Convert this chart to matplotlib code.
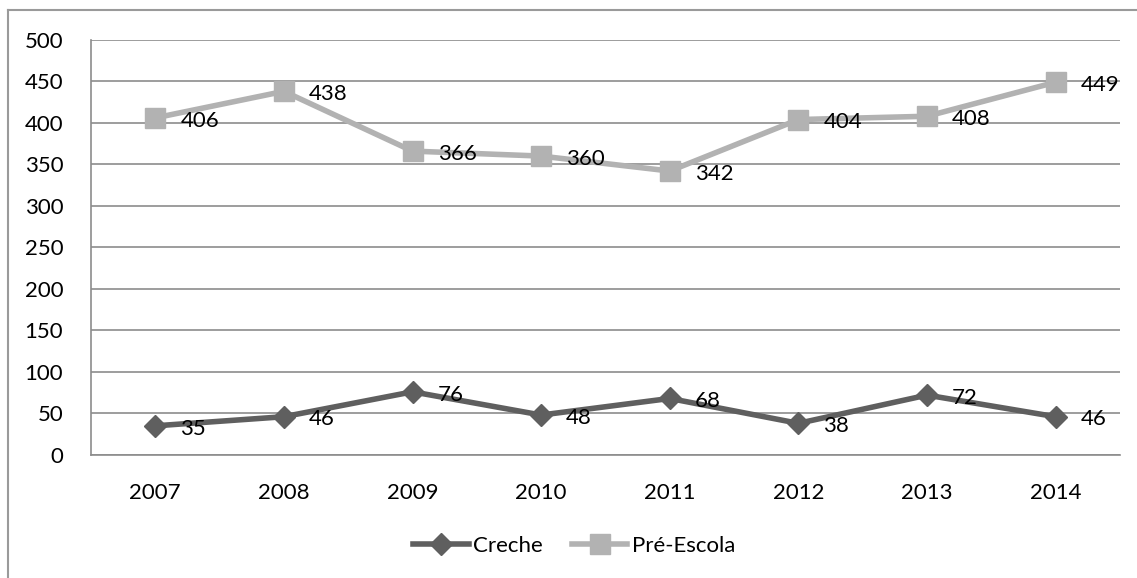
import matplotlib
matplotlib.use('Agg')
import matplotlib.pyplot as plt
from matplotlib.lines import Line2D

plt.rcParams['font.family'] = ['Lato', 'DejaVu Sans']

# Dados
anos = ['2007', '2008', '2009', '2010', '2011', '2012', '2013', '2014']
creche = [35, 46, 76, 48, 68, 38, 72, 46]
pre_escola = [406, 438, 366, 360, 342, 404, 408, 449]

cor_creche = '#5f5f5f'
cor_pre = '#b2b2b2'
cor_grade = '#8c8c8c'
fs = 16

fig = plt.figure(figsize=(11.37, 5.78), dpi=100)
ax = fig.add_axes([0.080, 0.213, 0.905, 0.718])

x = range(len(anos))
ax.plot(x, creche, color=cor_creche, lw=4, marker='D', ms=11, label='Creche', zorder=3)
ax.plot(x, pre_escola, color=cor_pre, lw=4, marker='s', ms=14, label='Pré-Escola', zorder=3)

# Rótulos de dados
for serie in (creche, pre_escola):
    for xi, v in zip(x, serie):
        ax.annotate(str(v), (xi, v), xytext=(18, -2), textcoords='offset points',
                    ha='left', va='center', fontsize=fs, zorder=4)

ax.set_ylim(0, 500)
ax.set_yticks(range(0, 501, 50))
ax.set_xlim(-0.5, len(anos) - 0.5)
ax.set_xticks(list(x))
ax.set_xticklabels(anos)
ax.yaxis.grid(True, color=cor_grade, lw=1.2)
ax.set_axisbelow(True)
ax.tick_params(axis='both', length=0, labelsize=fs)
ax.tick_params(axis='x', pad=20)
ax.tick_params(axis='y', pad=20)
for s in ['top', 'right']:
    ax.spines[s].set_visible(False)
ax.spines['left'].set_color(cor_grade)
ax.spines['bottom'].set_color(cor_grade)
ax.spines['left'].set_linewidth(1.2)
ax.spines['bottom'].set_linewidth(1.2)

leg = fig.legend(loc='center', bbox_to_anchor=(0.505, 0.055), ncol=2, frameon=False,
                 fontsize=fs, handlelength=2.5, handletextpad=0.2, columnspacing=1.3)

# Moldura do gráfico
fig.add_artist(Line2D([8 / 1137, 8 / 1137], [0, 1 - 10 / 578], color='#9a9a9a', lw=1.5))
fig.add_artist(Line2D([8 / 1137, 1], [1 - 10 / 578, 1 - 10 / 578], color='#9a9a9a', lw=1.5))

fig.savefig('out.png', dpi=100)
